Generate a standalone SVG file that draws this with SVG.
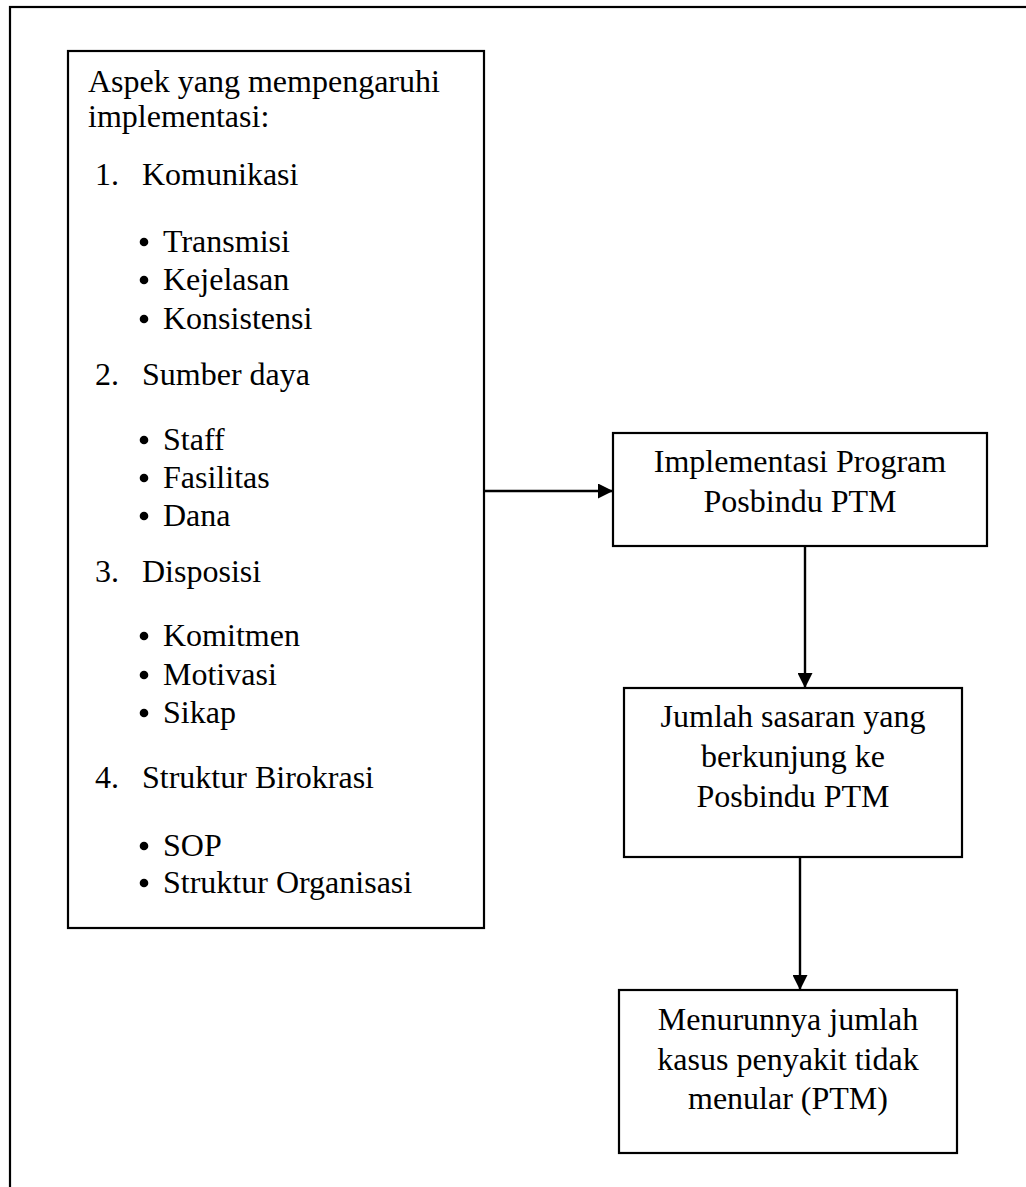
<svg xmlns="http://www.w3.org/2000/svg" width="1026" height="1187" viewBox="0 0 1026 1187">
  <style>
    .box { fill: #ffffff; stroke: #000000; stroke-width: 2.2; }
    .frame { fill: none; stroke: #000000; stroke-width: 2.2; }
    .t { font-family: "Liberation Serif", "Times New Roman", serif; font-size: 32px; fill: #000000; }
    .c { text-anchor: middle; }
    .link { stroke: #000000; stroke-width: 2.4; fill: none; }
  </style>
  <defs>
    <marker id="arrow" markerWidth="15" markerHeight="15" refX="15" refY="7.5" orient="auto" markerUnits="userSpaceOnUse">
      <path d="M0,0 L15,7.5 L0,15 Z" fill="#000000"/>
    </marker>
  </defs>

  <rect width="1026" height="1187" fill="#ffffff"/>

  <!-- page frame, running off the right and bottom edges -->
  <rect class="frame" x="10" y="7" width="1030" height="1200"/>

  <!-- factors affecting implementation -->
  <g id="aspek">
    <rect class="box" x="68" y="51" width="416" height="877"/>
    <text class="t" x="88" y="92">Aspek yang mempengaruhi</text>
    <text class="t" x="88" y="127">implementasi:</text>

    <text class="t" x="95" y="185">1.</text>
    <text class="t" x="142" y="185">Komunikasi</text>
    <circle cx="144" cy="242" r="4.3"/>
    <text class="t" x="163" y="252">Transmisi</text>
    <circle cx="144" cy="280" r="4.3"/>
    <text class="t" x="163" y="290">Kejelasan</text>
    <circle cx="144" cy="319" r="4.3"/>
    <text class="t" x="163" y="329">Konsistensi</text>

    <text class="t" x="95" y="385">2.</text>
    <text class="t" x="142" y="385">Sumber daya</text>
    <circle cx="144" cy="440" r="4.3"/>
    <text class="t" x="163" y="450">Staff</text>
    <circle cx="144" cy="478" r="4.3"/>
    <text class="t" x="163" y="488">Fasilitas</text>
    <circle cx="144" cy="516" r="4.3"/>
    <text class="t" x="163" y="526">Dana</text>

    <text class="t" x="95" y="582">3.</text>
    <text class="t" x="142" y="582">Disposisi</text>
    <circle cx="144" cy="636" r="4.3"/>
    <text class="t" x="163" y="646">Komitmen</text>
    <circle cx="144" cy="675" r="4.3"/>
    <text class="t" x="163" y="685">Motivasi</text>
    <circle cx="144" cy="713" r="4.3"/>
    <text class="t" x="163" y="723">Sikap</text>

    <text class="t" x="95" y="788">4.</text>
    <text class="t" x="142" y="788">Struktur Birokrasi</text>
    <circle cx="144" cy="846" r="4.3"/>
    <text class="t" x="163" y="856">SOP</text>
    <circle cx="144" cy="883" r="4.3"/>
    <text class="t" x="163" y="893">Struktur Organisasi</text>
  </g>

  <g id="implementasi">
    <rect class="box" x="613" y="433" width="374" height="113"/>
    <text class="t c" x="800" y="472">Implementasi Program</text>
    <text class="t c" x="800" y="512">Posbindu PTM</text>
  </g>

  <g id="sasaran">
    <rect class="box" x="624" y="688" width="338" height="169"/>
    <text class="t c" x="793" y="727">Jumlah sasaran yang</text>
    <text class="t c" x="793" y="767">berkunjung ke</text>
    <text class="t c" x="793" y="807">Posbindu PTM</text>
  </g>

  <g id="hasil">
    <rect class="box" x="619" y="990" width="338" height="163"/>
    <text class="t c" x="788" y="1030">Menurunnya jumlah</text>
    <text class="t c" x="788" y="1070">kasus penyakit tidak</text>
    <text class="t c" x="788" y="1109">menular (PTM)</text>
  </g>

  <g id="connectors">
    <line class="link" x1="484" y1="491" x2="613" y2="491" marker-end="url(#arrow)"/>
    <line class="link" x1="805" y1="546" x2="805" y2="688" marker-end="url(#arrow)"/>
    <line class="link" x1="800" y1="857" x2="800" y2="990" marker-end="url(#arrow)"/>
  </g>
</svg>
